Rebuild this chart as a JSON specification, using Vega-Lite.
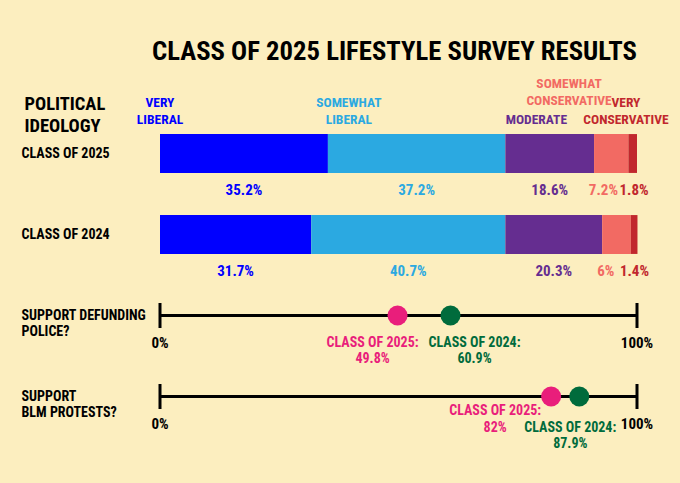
{
  "$schema": "https://vega.github.io/schema/vega-lite/v6.json",
  "width": 477,
  "height": 324,
  "autosize": {"type": "none"},
  "padding": {"left": 160, "top": 113, "right": 43, "bottom": 46},
  "background": "#FCEEBF",
  "title": {
    "text": "CLASS OF 2025 LIFESTYLE SURVEY RESULTS",
    "font": "Roboto Condensed, DejaVu Sans Condensed, sans-serif",
    "fontSize": 26.7,
    "fontWeight": "bold",
    "color": "black",
    "anchor": "middle",
    "frame": "group",
    "baseline": "alphabetic",
    "offset": 14,
    "dy": 24,
    "dx": -4
  },
  "config": {
    "view": {"stroke": null},
    "text": {"font": "Roboto Condensed, DejaVu Sans Condensed, sans-serif", "fontWeight": "bold"}
  },
  "datasets": {
    "ideology": [
      {"row": "CLASS OF 2025", "ideology": "Very Liberal", "rank": 1, "pct": 35.2},
      {"row": "CLASS OF 2025", "ideology": "Somewhat Liberal", "rank": 2, "pct": 37.2},
      {"row": "CLASS OF 2025", "ideology": "Moderate", "rank": 3, "pct": 18.6},
      {"row": "CLASS OF 2025", "ideology": "Somewhat Conservative", "rank": 4, "pct": 7.2},
      {"row": "CLASS OF 2025", "ideology": "Very Conservative", "rank": 5, "pct": 1.8},
      {"row": "CLASS OF 2024", "ideology": "Very Liberal", "rank": 1, "pct": 31.7},
      {"row": "CLASS OF 2024", "ideology": "Somewhat Liberal", "rank": 2, "pct": 40.7},
      {"row": "CLASS OF 2024", "ideology": "Moderate", "rank": 3, "pct": 20.3},
      {"row": "CLASS OF 2024", "ideology": "Somewhat Conservative", "rank": 4, "pct": 6},
      {"row": "CLASS OF 2024", "ideology": "Very Conservative", "rank": 5, "pct": 1.4}
    ],
    "questions": [
      {"row": "SUPPORT DEFUNDING POLICE?", "lo": 0, "hi": 100},
      {"row": "SUPPORT BLM PROTESTS?", "lo": 0, "hi": 100}
    ],
    "support": [
      {"row": "SUPPORT DEFUNDING POLICE?", "cls": "2025", "pct": 49.8},
      {"row": "SUPPORT DEFUNDING POLICE?", "cls": "2024", "pct": 60.9},
      {"row": "SUPPORT BLM PROTESTS?", "cls": "2025", "pct": 82},
      {"row": "SUPPORT BLM PROTESTS?", "cls": "2024", "pct": 87.9}
    ]
  },
  "encoding": {
    "y": {
      "field": "row",
      "type": "nominal",
      "scale": {
        "type": "band",
        "domain": ["CLASS OF 2025", "CLASS OF 2024", "SUPPORT DEFUNDING POLICE?", "SUPPORT BLM PROTESTS?"],
        "paddingInner": 0.52,
        "paddingOuter": 0.26
      },
      "axis": {
        "domain": false,
        "ticks": false,
        "tickSize": 0,
        "labelAlign": "left",
        "labelPadding": 139,
        "labelFont": "Roboto Condensed, DejaVu Sans Condensed, sans-serif",
        "labelFontWeight": "bold",
        "labelFontSize": 14,
        "labelColor": "black",
        "labelLineHeight": 16,
        "labelLimit": 300,
        "labelExpr": "datum.value == 'SUPPORT DEFUNDING POLICE?' ? ['SUPPORT DEFUNDING', 'POLICE?'] : datum.value == 'SUPPORT BLM PROTESTS?' ? ['SUPPORT', 'BLM PROTESTS?'] : datum.value",
        "title": ["POLITICAL", "IDEOLOGY"],
        "titleAngle": 0,
        "titleAlign": "left",
        "titleBaseline": "alphabetic",
        "titleX": -136,
        "titleY": -4,
        "titleFont": "Roboto Condensed, DejaVu Sans Condensed, sans-serif",
        "titleFontWeight": "bold",
        "titleFontSize": 18.5,
        "titleLineHeight": 22,
        "titleColor": "black"
      }
    }
  },
  "layer": [
    {
      "data": {"name": "ideology"},
      "transform": [
        {"stack": "pct", "groupby": ["row"], "sort": [{"field": "rank"}], "as": ["x0", "x1"]}
      ],
      "mark": {"type": "bar"},
      "encoding": {
        "x": {"field": "x0", "type": "quantitative", "scale": {"domain": [0, 100], "nice": false}, "axis": null},
        "x2": {"field": "x1"},
        "color": {
          "field": "ideology",
          "type": "nominal",
          "scale": {
            "domain": ["Very Liberal", "Somewhat Liberal", "Moderate", "Somewhat Conservative", "Very Conservative"],
            "range": ["#0000FF", "#2BA9E1", "#652D90", "#F26A63", "#C1272D"]
          },
          "legend": null
        }
      }
    },
    {
      "data": {"name": "ideology"},
      "transform": [
        {"stack": "pct", "groupby": ["row"], "sort": [{"field": "rank"}], "as": ["x0", "x1"]},
        {"calculate": "(datum.x0 + datum.x1) / 2", "as": "mid"},
        {"calculate": "datum.pct + '%'", "as": "label"},
        {"filter": "datum.rank <= 3"}
      ],
      "mark": {"type": "text", "baseline": "alphabetic", "fontSize": 15, "dy": 41},
      "encoding": {
        "x": {"field": "mid", "type": "quantitative"},
        "text": {"field": "label", "type": "nominal"},
        "color": {"field": "ideology", "type": "nominal", "legend": null}
      }
    },
    {
      "data": {"name": "ideology"},
      "transform": [
        {"stack": "pct", "groupby": ["row"], "sort": [{"field": "rank"}], "as": ["x0", "x1"]},
        {"calculate": "datum.pct + '%'", "as": "label"},
        {"filter": "datum.rank == 4"}
      ],
      "mark": {"type": "text", "baseline": "alphabetic", "fontSize": 15, "dy": 41, "dx": -25},
      "encoding": {
        "x": {"field": "x1", "type": "quantitative"},
        "text": {"field": "label", "type": "nominal"},
        "color": {"field": "ideology", "type": "nominal", "legend": null}
      }
    },
    {
      "data": {"name": "ideology"},
      "transform": [
        {"stack": "pct", "groupby": ["row"], "sort": [{"field": "rank"}], "as": ["x0", "x1"]},
        {"calculate": "datum.pct + '%'", "as": "label"},
        {"filter": "datum.rank == 5"}
      ],
      "mark": {"type": "text", "baseline": "alphabetic", "fontSize": 15, "dy": 41, "dx": -3},
      "encoding": {
        "x": {"field": "x1", "type": "quantitative"},
        "text": {"field": "label", "type": "nominal"},
        "color": {"field": "ideology", "type": "nominal", "legend": null}
      }
    },
    {
      "data": {"name": "ideology"},
      "transform": [
        {"stack": "pct", "groupby": ["row"], "sort": [{"field": "rank"}], "as": ["x0", "x1"]},
        {"calculate": "split(upper(datum.ideology), ' ')", "as": "lines"},
        {"filter": "datum.row == 'CLASS OF 2025' && datum.rank == 1"}
      ],
      "mark": {"type": "text", "baseline": "alphabetic", "fontSize": 13.5, "lineHeight": 17, "dy": -47, "dx": 0},
      "encoding": {
        "x": {"field": "x0", "type": "quantitative"},
        "text": {"field": "lines", "type": "nominal"},
        "color": {"field": "ideology", "type": "nominal", "legend": null}
      }
    },
    {
      "data": {"name": "ideology"},
      "transform": [
        {"stack": "pct", "groupby": ["row"], "sort": [{"field": "rank"}], "as": ["x0", "x1"]},
        {"calculate": "split(upper(datum.ideology), ' ')", "as": "lines"},
        {"filter": "datum.row == 'CLASS OF 2025' && datum.rank == 2"}
      ],
      "mark": {"type": "text", "baseline": "alphabetic", "fontSize": 13.5, "lineHeight": 17, "dy": -47, "dx": 21},
      "encoding": {
        "x": {"field": "x0", "type": "quantitative"},
        "text": {"field": "lines", "type": "nominal"},
        "color": {"field": "ideology", "type": "nominal", "legend": null}
      }
    },
    {
      "data": {"name": "ideology"},
      "transform": [
        {"stack": "pct", "groupby": ["row"], "sort": [{"field": "rank"}], "as": ["x0", "x1"]},
        {"calculate": "split(upper(datum.ideology), ' ')", "as": "lines"},
        {"filter": "datum.row == 'CLASS OF 2025' && datum.rank == 3"}
      ],
      "mark": {"type": "text", "baseline": "alphabetic", "fontSize": 13.5, "lineHeight": 17, "dy": -30, "dx": 31},
      "encoding": {
        "x": {"field": "x0", "type": "quantitative"},
        "text": {"field": "lines", "type": "nominal"},
        "color": {"field": "ideology", "type": "nominal", "legend": null}
      }
    },
    {
      "data": {"name": "ideology"},
      "transform": [
        {"stack": "pct", "groupby": ["row"], "sort": [{"field": "rank"}], "as": ["x0", "x1"]},
        {"calculate": "split(upper(datum.ideology), ' ')", "as": "lines"},
        {"filter": "datum.row == 'CLASS OF 2025' && datum.rank == 4"}
      ],
      "mark": {"type": "text", "baseline": "alphabetic", "fontSize": 13.5, "lineHeight": 17, "dy": -66, "dx": -25},
      "encoding": {
        "x": {"field": "x0", "type": "quantitative"},
        "text": {"field": "lines", "type": "nominal"},
        "color": {"field": "ideology", "type": "nominal", "legend": null}
      }
    },
    {
      "data": {"name": "ideology"},
      "transform": [
        {"stack": "pct", "groupby": ["row"], "sort": [{"field": "rank"}], "as": ["x0", "x1"]},
        {"calculate": "split(upper(datum.ideology), ' ')", "as": "lines"},
        {"filter": "datum.row == 'CLASS OF 2025' && datum.rank == 5"}
      ],
      "mark": {"type": "text", "baseline": "alphabetic", "fontSize": 13.5, "lineHeight": 17, "dy": -47, "dx": -11},
      "encoding": {
        "x": {"field": "x1", "type": "quantitative"},
        "text": {"field": "lines", "type": "nominal"},
        "color": {"field": "ideology", "type": "nominal", "legend": null}
      }
    },
    {
      "data": {"name": "questions"},
      "mark": {"type": "rule", "color": "black", "strokeWidth": 3},
      "encoding": {
        "x": {"field": "lo", "type": "quantitative"},
        "x2": {"field": "hi"}
      }
    },
    {
      "data": {"name": "questions"},
      "transform": [{"fold": ["lo", "hi"], "as": ["end", "value"]}],
      "mark": {"type": "tick", "color": "black", "thickness": 3, "size": 25, "opacity": 1},
      "encoding": {
        "x": {"field": "value", "type": "quantitative"}
      }
    },
    {
      "data": {"name": "questions"},
      "transform": [
        {"fold": ["lo", "hi"], "as": ["end", "value"]},
        {"calculate": "datum.value + '%'", "as": "label"}
      ],
      "mark": {"type": "text", "baseline": "alphabetic", "fontSize": 15, "dy": 32, "color": "black"},
      "encoding": {
        "x": {"field": "value", "type": "quantitative"},
        "text": {"field": "label", "type": "nominal"}
      }
    },
    {
      "data": {"name": "support"},
      "mark": {"type": "circle", "size": 400, "opacity": 1},
      "encoding": {
        "x": {"field": "pct", "type": "quantitative"},
        "fill": {
          "field": "cls",
          "type": "nominal",
          "scale": {"domain": ["2025", "2024"], "range": ["#E91E7B", "#006B3C"]},
          "legend": null
        }
      }
    },
    {
      "data": {"name": "support"},
      "transform": [
        {"calculate": "['CLASS OF ' + datum.cls + ':', datum.pct + '%']", "as": "lines"},
        {"filter": "datum.row == 'SUPPORT DEFUNDING POLICE?' && datum.cls == '2025'"}
      ],
      "mark": {"type": "text", "baseline": "alphabetic", "fontSize": 14, "lineHeight": 16, "dy": 31, "dx": -25},
      "encoding": {
        "x": {"field": "pct", "type": "quantitative"},
        "text": {"field": "lines", "type": "nominal"},
        "fill": {"field": "cls", "type": "nominal", "legend": null}
      }
    },
    {
      "data": {"name": "support"},
      "transform": [
        {"calculate": "['CLASS OF ' + datum.cls + ':', datum.pct + '%']", "as": "lines"},
        {"filter": "datum.row == 'SUPPORT DEFUNDING POLICE?' && datum.cls == '2024'"}
      ],
      "mark": {"type": "text", "baseline": "alphabetic", "fontSize": 14, "lineHeight": 16, "dy": 31, "dx": 24},
      "encoding": {
        "x": {"field": "pct", "type": "quantitative"},
        "text": {"field": "lines", "type": "nominal"},
        "fill": {"field": "cls", "type": "nominal", "legend": null}
      }
    },
    {
      "data": {"name": "support"},
      "transform": [
        {"calculate": "['CLASS OF ' + datum.cls + ':', datum.pct + '%']", "as": "lines"},
        {"filter": "datum.row == 'SUPPORT BLM PROTESTS?' && datum.cls == '2025'"}
      ],
      "mark": {"type": "text", "baseline": "alphabetic", "fontSize": 14, "lineHeight": 17, "dy": 18, "dx": -56},
      "encoding": {
        "x": {"field": "pct", "type": "quantitative"},
        "text": {"field": "lines", "type": "nominal"},
        "fill": {"field": "cls", "type": "nominal", "legend": null}
      }
    },
    {
      "data": {"name": "support"},
      "transform": [
        {"calculate": "['CLASS OF ' + datum.cls + ':', datum.pct + '%']", "as": "lines"},
        {"filter": "datum.row == 'SUPPORT BLM PROTESTS?' && datum.cls == '2024'"}
      ],
      "mark": {"type": "text", "baseline": "alphabetic", "fontSize": 14, "lineHeight": 16, "dy": 35, "dx": -9},
      "encoding": {
        "x": {"field": "pct", "type": "quantitative"},
        "text": {"field": "lines", "type": "nominal"},
        "fill": {"field": "cls", "type": "nominal", "legend": null}
      }
    }
  ]
}
